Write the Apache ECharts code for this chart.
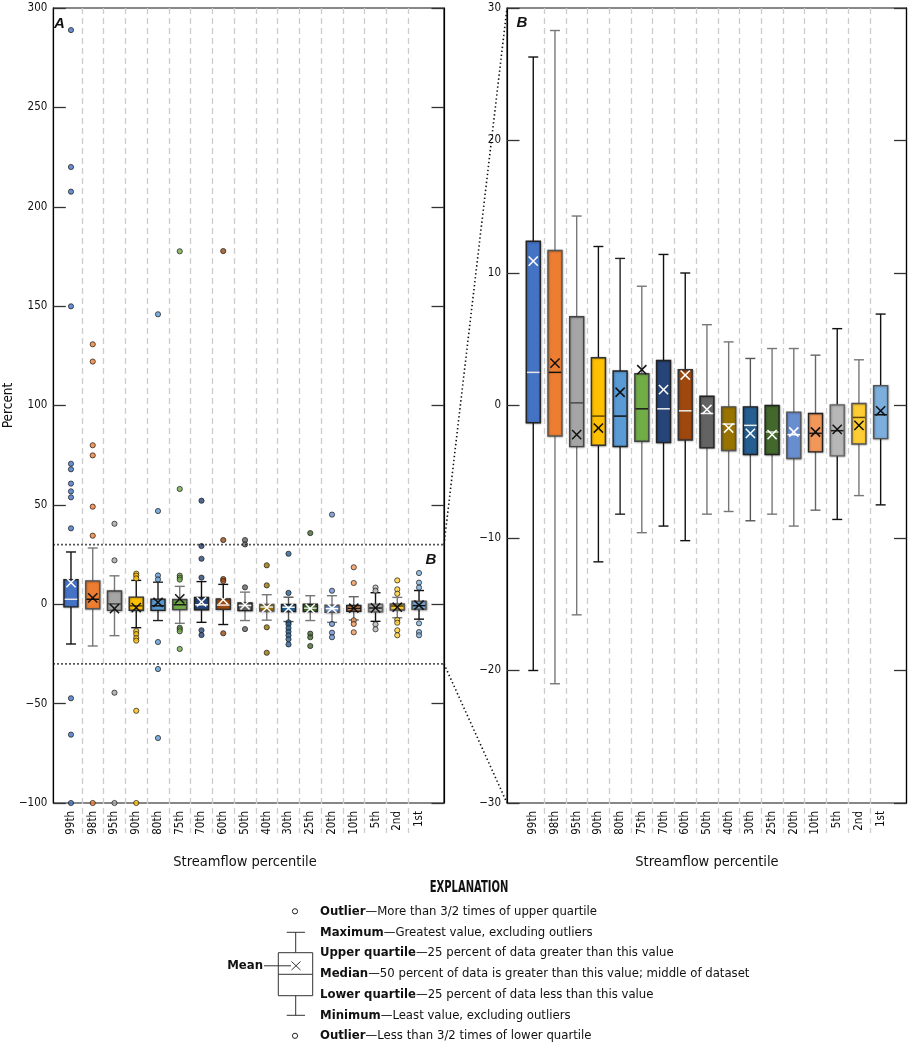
<!DOCTYPE html>
<html>
<head>
<meta charset="utf-8">
<script src="https://cdn.jsdelivr.net/npm/echarts@6/dist/echarts.min.js"></script>
<style>
html,body{margin:0;padding:0;background:#fff;}
#chart{width:908px;height:1045px;}
</style>
</head>
<body>
<div id="chart"></div>
<script>
// ---------------- DATA ----------------
const categories = ['99th','98th','95th','90th','80th','75th','70th','60th','50th','40th','30th','25th','20th','10th','5th','2nd','1st'];
const whiskerMin = [-20.0,-21.0,-15.8,-11.8,-8.2,-9.6,-9.1,-10.2,-8.2,-8.0,-8.7,-8.2,-9.1,-7.9,-8.6,-6.8,-7.5];
const lowerQuartile = [-1.3,-2.3,-3.1,-3.0,-3.1,-2.7,-2.8,-2.6,-3.2,-3.4,-3.7,-3.7,-4.0,-3.5,-3.8,-2.9,-2.5];
const median = [2.5,2.5,0.2,-0.8,-0.8,-0.25,-0.25,-0.4,-0.6,-1.4,-1.5,-2.0,-2.2,-2.1,-1.9,-0.9,-0.7];
const upperQuartile = [12.4,11.7,6.7,3.6,2.6,2.4,3.4,2.7,0.7,-0.1,-0.1,0.0,-0.5,-0.6,0.05,0.15,1.5];
const whiskerMax = [26.3,28.3,14.3,12.0,11.1,9.0,11.4,10.0,6.1,4.8,3.55,4.3,4.3,3.8,5.8,3.45,6.9];
const mean = [10.9,3.2,-2.2,-1.7,1.0,2.7,1.2,2.3,-0.3,-1.7,-2.1,-2.2,-2.0,-2.0,-1.8,-1.5,-0.4];
const outliers = [
  [288.9,220.0,207.6,149.9,70.7,67.9,60.7,56.8,53.8,38.2,-47.3,-65.6,-100],
  [130.8,122.1,80.0,74.9,49.1,34.5,-100],
  [40.5,22.1,-44.5,-100],
  [15.4,14.4,13.0,-13.5,-15.0,-17.0,-18.3,-53.6,-100],
  [145.9,46.9,14.5,12.5,-19.0,-32.6,-67.3],
  [177.6,58.0,14.4,13.4,12.4,-11.8,-12.6,-13.6,-22.5],
  [52.1,29.3,22.9,13.4,-13.1,-15.5],
  [177.7,32.3,12.7,11.7,-14.6],
  [32.3,30.1,8.5,-12.5],
  [19.6,9.5,-11.6,-24.4],
  [25.4,5.7,-9.1,-10.1,-12.0,-13.8,-15.6,-17.6,-20.2],
  [35.8,-14.8,-16.6,-21.0],
  [45.1,6.8,-9.9,-14.3,-16.6],
  [18.6,10.7,-8.1,-9.9,-14.1],
  [8.4,6.8,-10.1,-12.6],
  [12.0,7.5,5.3,-7.9,-9.3,-13.1,-15.6],
  [15.7,10.9,8.4,-9.6,-14.0,-15.6]
];
const ticksA = {min:-100, max:300, interval:50};
const ticksB = {min:-30, max:30, interval:10};
const zoomRange = [-30, 30];

// ---------------- STYLE ----------------
const fillCol = ['#4472C4','#ED7D31','#A5A5A5','#FFC000','#5B9BD5','#70AD47','#264478','#9E480E','#636363','#997300','#255E91','#43682B','#698ED0','#F1975A','#B7B7B7','#FFCD33','#7CAFDD'];
const medCol = ['#e6e6e6','#111','#4a4a4a','#5e4700','#111','#1a1a1a','#eeeeee','#eeeeee','#f2f2f2','#eeeeee','#eeeeee','#cfd8c8','#ffffff','#1a1a1a','#1a1a1a','#5e4700','#111'];
const meanCol = ['#fff','#111','#111','#111','#111','#111','#fff','#fff','#fff','#fff','#fff','#fff','#fff','#111','#111','#111','#111'];
const whiskCol = ['#111','#777','#777','#111','#222','#777','#111','#111','#777','#777','#555','#777','#777','#666','#111','#777','#111'];
const boxBorder = ['#222','#555','#444','#333','#222','#444','#222','#333','#222','#555','#222','#222','#555','#222','#666','#555','#555'];
const FONT = "'Liberation Sans Narrow','DejaVu Sans Condensed','Arial Narrow',sans-serif";

const boxRows = categories.map((c,i)=>[i, whiskerMin[i], lowerQuartile[i], median[i], upperQuartile[i], whiskerMax[i], mean[i]]);
const outlierPts = [];
outliers.forEach((arr,i)=>arr.forEach(v=>outlierPts.push({value:[i,v], itemStyle:{color:fillCol[i]}})));

function renderBox(params, api){
  const i = params.dataIndex;
  const x = api.value(0);
  const pMin = api.coord([x, api.value(1)]);
  const pQ1 = api.coord([x, api.value(2)]);
  const pMed = api.coord([x, api.value(3)]);
  const pQ3 = api.coord([x, api.value(4)]);
  const pMax = api.coord([x, api.value(5)]);
  const pMean = api.coord([x, api.value(6)]);
  const cx = pMin[0];
  const band = api.size([1,0])[0];
  const hw = band*0.322;
  const cap = band*0.23;
  const ws = {stroke: whiskCol[i], lineWidth: 1.4};
  const xs = 4.6;
  const ms = {stroke: meanCol[i], lineWidth: 1.5};
  return {type:'group', children:[
    {type:'line', shape:{x1:cx,y1:pMax[1],x2:cx,y2:pQ3[1]}, style:ws},
    {type:'line', shape:{x1:cx-cap,y1:pMax[1],x2:cx+cap,y2:pMax[1]}, style:ws},
    {type:'line', shape:{x1:cx,y1:pQ1[1],x2:cx,y2:pMin[1]}, style:ws},
    {type:'line', shape:{x1:cx-cap,y1:pMin[1],x2:cx+cap,y2:pMin[1]}, style:ws},
    {type:'rect', shape:{x:cx-hw,y:pQ3[1],width:2*hw,height:pQ1[1]-pQ3[1]},
      style:{fill:fillCol[i], stroke:boxBorder[i], lineWidth:1.4, shadowBlur:2, shadowColor:'rgba(0,0,0,0.35)', shadowOffsetX:0.5, shadowOffsetY:0.5}},
    {type:'line', shape:{x1:cx-hw+0.7,y1:pMed[1],x2:cx+hw-0.7,y2:pMed[1]}, style:{stroke:medCol[i], lineWidth:1.5}},
    {type:'line', shape:{x1:cx-xs,y1:pMean[1]-xs,x2:cx+xs,y2:pMean[1]+xs}, style:ms},
    {type:'line', shape:{x1:cx-xs,y1:pMean[1]+xs,x2:cx+xs,y2:pMean[1]-xs}, style:ms}
  ]};
}

const fmtMinus = v => v < 0 ? '\u2212' + Math.abs(v) : String(v);
const TOP = 8, H = 795, LINE_H = 825;
const FA = {left:45, width:399}, DA = {left:60.1, width:369.8};
const FB = {left:507, width:399.5}, DB = {left:522.4, width:369.1};

function frameYAxes(gi, t, withName){
  const tickStyle = {show:true, inside:true, length:12.5, lineStyle:{color:'#333', width:1.3}};
  return [
    {gridIndex:gi, type:'value', min:t.min, max:t.max, interval:t.interval, position:'left',
      axisLine:{show:true, lineStyle:{color:'#000', width:1.2}}, axisTick:tickStyle,
      axisLabel:{margin:6, color:'#111', fontFamily:FONT, fontSize:11.5, formatter:fmtMinus},
      splitLine:{show:false},
      name: withName ? 'Percent' : '', nameLocation:'middle', nameGap:32, nameRotate:90,
      nameTextStyle:{fontFamily:FONT, fontSize:13.5, color:'#111'}},
    {gridIndex:gi, type:'value', min:t.min, max:t.max, interval:t.interval, position:'right',
      axisLine:{show:true, lineStyle:{color:'#000', width:1.2}}, axisTick:tickStyle,
      axisLabel:{show:false}, splitLine:{show:false}}
  ];
}
function hiddenY(gi, t){
  return {gridIndex:gi, type:'value', min:t.min, max:t.max, show:false, splitLine:{show:false}};
}
function lineGridY(gi, t){
  const span = t.max - t.min;
  return {gridIndex:gi, type:'value', max:t.max, min:t.max - span*LINE_H/H, show:false, splitLine:{show:false}};
}
function catAxis(gi, labels){
  return {gridIndex:gi, type:'category', data:categories, boundaryGap:true,
    axisLine:{show:false}, axisTick:{show:false},
    axisLabel:{show:labels, rotate:90, margin:8, fontFamily:FONT, fontSize:11.5, color:'#111', interval:0},
    splitLine:{show:!labels, showMinLine:false, showMaxLine:false, interval:0,
      lineStyle:{color:'#cccccc', width:1.3, type:[6,4]}},
    name: labels ? 'Streamflow percentile' : '', nameLocation:'middle', nameGap:52,
    nameTextStyle:{fontFamily:FONT, fontSize:14.5, color:'#111'}};
}

const chart = echarts.init(document.getElementById('chart'), null, {renderer:'canvas'});
const option = {
  backgroundColor:'#fff',
  animation:false,
  grid:[
    {left:FA.left, top:TOP, width:FA.width, height:H, show:true, borderColor:'#111', borderWidth:1.2, containLabel:false},
    {left:DA.left, top:TOP, width:DA.width, height:LINE_H},
    {left:DA.left, top:TOP, width:DA.width, height:H},
    {left:FB.left, top:TOP, width:FB.width, height:H, show:true, borderColor:'#111', borderWidth:1.2},
    {left:DB.left, top:TOP, width:DB.width, height:LINE_H},
    {left:DB.left, top:TOP, width:DB.width, height:H}
  ],
  xAxis:[
    {gridIndex:0, type:'value', min:0, max:1, show:false, splitLine:{show:false}},
    catAxis(1,false),
    catAxis(2,true),
    {gridIndex:3, type:'value', min:0, max:1, show:false, splitLine:{show:false}},
    catAxis(4,false),
    catAxis(5,true)
  ],
  yAxis:[
    ...frameYAxes(0, ticksA, true),
    lineGridY(1, ticksA),
    hiddenY(2, ticksA),
    ...frameYAxes(3, ticksB, false),
    lineGridY(4, ticksB),
    hiddenY(5, ticksB)
  ],
  series:[
    {type:'custom', name:'A boxes', xAxisIndex:2, yAxisIndex:3, renderItem:renderBox,
      encode:{x:0, y:[1,2,3,4,5,6]}, data:boxRows, z:3},
    {type:'scatter', name:'A outliers', xAxisIndex:2, yAxisIndex:3, data:outlierPts, symbol:'circle', symbolSize:5.2,
      itemStyle:{borderColor:'#1a1a1a', borderWidth:0.9}, clip:false, z:4},
    {type:'custom', name:'B boxes', xAxisIndex:5, yAxisIndex:7, renderItem:renderBox,
      encode:{x:0, y:[1,2,3,4,5,6]}, data:boxRows, z:3}
  ]
};
chart.setOption(option);

// ------------- annotations positioned from the axes -------------
const pA = (x,y)=>chart.convertToPixel({xAxisIndex:0, yAxisIndex:0}, [x,y]);
const pB = (x,y)=>chart.convertToPixel({xAxisIndex:3, yAxisIndex:4}, [x,y]);
const aTopL = pA(0, zoomRange[1]), aTopR = pA(1, zoomRange[1]);
const aBotL = pA(0, zoomRange[0]), aBotR = pA(1, zoomRange[0]);
const bTop = pB(0, ticksB.max), bBot = pB(0, ticksB.min);
const dot = {stroke:'#111', lineWidth:1.6, lineDash:[1.4,2.6]};
const lbl = {font:"italic bold 15px 'Liberation Sans', Arial, sans-serif", fill:'#111', align:'center', verticalAlign:'middle'};
const rows = [
  ['Outlier','More than 3/2 times of upper quartile'],
  ['Maximum','Greatest value, excluding outliers'],
  ['Upper quartile','25 percent of data greater than this value'],
  ['Median','50 percent of data is greater than this value; middle of dataset'],
  ['Lower quartile','25 percent of data less than this value'],
  ['Minimum','Least value, excluding outliers'],
  ['Outlier','Less than 3/2 times of lower quartile']
];
const rowY = [911.3, 932.3, 953, 974, 994.8, 1015.3, 1035.8];
const gfx = [
  {type:'line', shape:{x1:aTopL[0],y1:aTopL[1],x2:aTopR[0],y2:aTopR[1]}, style:dot, z:10},
  {type:'line', shape:{x1:aBotL[0],y1:aBotL[1],x2:aBotR[0],y2:aBotR[1]}, style:dot, z:10},
  {type:'line', shape:{x1:aTopR[0],y1:aTopR[1],x2:bTop[0],y2:bTop[1]}, style:dot, z:10},
  {type:'line', shape:{x1:aBotR[0],y1:aBotR[1],x2:bBot[0],y2:bBot[1]}, style:dot, z:10},
  {type:'text', x:59.5, y:24, style:Object.assign({text:'A'}, lbl), z:10},
  {type:'text', x:431, y:559.5, style:Object.assign({text:'B'}, lbl), z:10},
  {type:'text', x:522, y:23, style:Object.assign({text:'B'}, lbl), z:10},
  {type:'text', x:469, y:888, scaleX:0.74, originX:0, style:{text:'EXPLANATION', fontWeight:'bold', fontSize:15, fontFamily:FONT, fill:'#111', align:'center', verticalAlign:'middle'}},
  {type:'circle', shape:{cx:295, cy:911.3, r:2.6}, style:{fill:'#fff', stroke:'#222', lineWidth:1}},
  {type:'circle', shape:{cx:295, cy:1035.8, r:2.6}, style:{fill:'#fff', stroke:'#222', lineWidth:1}},
  {type:'line', shape:{x1:286.7,y1:932.3,x2:305,y2:932.3}, style:{stroke:'#333', lineWidth:1}},
  {type:'line', shape:{x1:295.7,y1:932.3,x2:295.7,y2:952.7}, style:{stroke:'#333', lineWidth:1}},
  {type:'rect', shape:{x:278.3,y:952.7,width:34.4,height:43}, style:{fill:'#fff', stroke:'#333', lineWidth:1}},
  {type:'line', shape:{x1:278.3,y1:974.3,x2:312.7,y2:974.3}, style:{stroke:'#333', lineWidth:1}},
  {type:'line', shape:{x1:295.7,y1:995.7,x2:295.7,y2:1015.3}, style:{stroke:'#333', lineWidth:1}},
  {type:'line', shape:{x1:286.7,y1:1015.3,x2:305,y2:1015.3}, style:{stroke:'#333', lineWidth:1}},
  {type:'line', shape:{x1:291.5,y1:961.5,x2:300.5,y2:970}, style:{stroke:'#333', lineWidth:1}},
  {type:'line', shape:{x1:291.5,y1:970,x2:300.5,y2:961.5}, style:{stroke:'#333', lineWidth:1}},
  {type:'line', shape:{x1:264,y1:965.8,x2:291,y2:965.8}, style:{stroke:'#333', lineWidth:1}},
  {type:'text', x:263, y:965.8, style:{text:'Mean', fontWeight:'bold', fontSize:13, fontFamily:FONT, fill:'#111', align:'right', verticalAlign:'middle'}}
];
rows.forEach((r,k)=>{
  gfx.push({type:'text', x:320, y:rowY[k], style:{
    text:'{b|' + r[0] + '}{n|\u2014' + r[1] + '}', fontSize:13, fontFamily:FONT, fill:'#111', verticalAlign:'middle', align:'left',
    rich:{b:{fontWeight:'bold', fontSize:13, fontFamily:FONT, fill:'#111'},
          n:{fontWeight:'normal', fontSize:13, fontFamily:FONT, fill:'#111'}}}});
});
chart.setOption({graphic:{elements:gfx}});
</script>
</body>
</html>
